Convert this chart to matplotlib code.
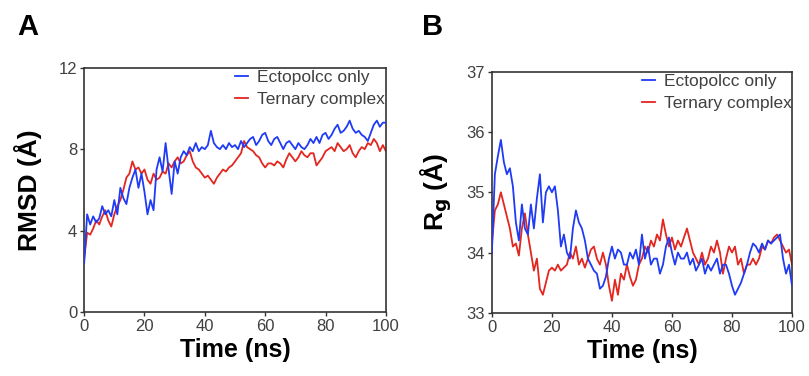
import numpy as np
import matplotlib
matplotlib.use("Agg")
import matplotlib.pyplot as plt

plt.rcParams.update({"font.family": ["Liberation Sans", "DejaVu Sans"]})

time_ns = list(range(0, 101))

rmsd_ecto = [2.4, 4.8, 4.3, 4.7, 4.4, 4.6, 5.2, 4.8, 5.0, 4.7,
             5.5, 4.8, 6.1, 5.6, 5.3, 6.1, 6.6, 7.0, 6.1, 6.8,
             5.9, 4.8, 5.5, 5.0, 7.0, 7.6, 6.9, 8.3, 7.0, 5.8,
             7.4, 6.8, 7.6, 7.9, 7.7, 8.1, 7.9, 8.3, 7.9, 8.1,
             8.0, 8.2, 8.9, 8.3, 8.1, 8.0, 8.2, 8.0, 8.3, 8.1,
             8.2, 8.0, 8.4, 8.1, 8.3, 8.5, 8.6, 8.2, 8.4, 8.7,
             8.8, 8.4, 8.2, 8.5, 8.6, 8.3, 8.0, 8.3, 8.4, 8.2,
             8.0, 8.3, 8.1, 8.0, 8.2, 8.5, 8.3, 8.6, 8.3, 8.7,
             8.8, 8.5, 8.7, 9.0, 9.2, 8.8, 8.9, 9.1, 9.4, 9.0,
             8.8, 8.9, 8.7, 8.6, 8.4, 8.8, 9.2, 9.4, 9.1, 9.3, 9.3]
rmsd_tern = [2.6, 3.9, 3.8, 4.1, 4.5, 4.3, 4.7, 5.0, 4.5, 4.2,
             4.8, 5.2, 5.5, 6.0, 6.6, 6.8, 7.4, 7.0, 7.1, 6.8,
             7.0, 6.5, 6.3, 6.8, 6.5, 6.6, 6.9, 6.8, 7.3, 7.1,
             7.4, 7.6, 7.3, 7.4, 7.7, 7.9, 7.4, 7.1, 7.0, 6.8,
             6.6, 6.7, 6.5, 6.3, 6.6, 6.8, 7.0, 6.9, 7.1, 7.2,
             7.4, 7.6, 7.8, 8.4, 8.1, 8.0, 7.9, 7.7, 7.6, 7.3,
             7.1, 7.3, 7.3, 7.2, 7.4, 7.3, 7.1, 7.5, 7.8, 7.6,
             7.4, 7.6, 7.9, 7.7, 7.6, 7.8, 7.8, 7.2, 7.4, 7.6,
             7.9, 8.0, 8.1, 7.9, 8.3, 8.1, 7.9, 8.0, 8.2, 7.8,
             7.6, 7.9, 8.1, 8.0, 8.3, 8.2, 8.5, 8.3, 7.9, 8.2, 7.9]

rg_ecto = [34.0, 35.3, 35.6, 35.87, 35.5, 35.3, 35.4, 35.1, 34.5, 34.2,
           34.8, 34.4, 34.3, 34.8, 34.4, 34.9, 35.3, 34.5, 35.0, 35.1,
           35.0, 35.1, 34.7, 34.1, 34.3, 34.0, 33.9, 34.4, 34.7, 34.5,
           34.4, 34.2, 33.9, 33.8, 33.7, 33.65, 33.4, 33.45, 33.6, 33.9,
           34.1, 33.9, 34.05, 34.0, 33.8, 33.8, 34.0, 33.9, 34.05, 33.8,
           34.3, 33.9, 34.1, 33.8, 33.9, 33.9, 33.65, 33.8, 34.1, 34.25,
           34.0, 33.8, 34.0, 33.9, 33.9, 34.0, 33.8, 33.9, 33.7, 33.8,
           33.9, 33.65, 33.8, 33.7, 33.8, 33.9, 33.65, 33.8, 33.8, 33.65,
           33.45, 33.3, 33.4, 33.5, 33.65, 33.8, 34.0, 34.15, 34.1, 34.0,
           34.15, 34.05, 34.2, 34.15, 34.2, 34.25, 34.3, 33.9, 33.65, 33.8, 33.45]
rg_tern = [34.15, 34.7, 34.8, 35.0, 34.8, 34.6, 34.4, 34.1, 34.15, 33.95,
           34.4, 34.65, 34.3, 34.0, 33.7, 33.9, 33.4, 33.3, 33.5, 33.7,
           33.75, 33.7, 33.8, 33.7, 33.75, 33.8, 34.0, 33.9, 34.1, 33.8,
           33.9, 33.75, 33.9, 34.05, 34.1, 33.9, 33.8, 34.0, 33.8, 33.45,
           33.2, 33.55, 33.3, 33.65, 33.55, 33.8, 33.6, 33.45, 33.55, 33.8,
           33.9, 34.1, 34.0, 34.2, 34.1, 34.3, 34.2, 34.55, 34.3, 34.1,
           34.25, 34.05, 34.2, 34.1, 34.25, 34.4, 34.2, 34.0, 33.9, 33.8,
           34.0, 33.8, 33.9, 34.1, 34.0, 34.2, 34.0, 33.65, 33.9, 34.1,
           34.0, 34.1, 33.8, 33.9, 33.65, 33.8, 33.8, 33.9, 33.8, 33.9,
           34.1, 34.05, 34.2, 34.15, 34.25, 34.3, 34.2, 34.1, 34.0, 34.05, 33.8]

x_ticks = [0, 20, 40, 60, 80, 100]
BLUE = "#1f3bf5"
RED = "#e3261f"
AXC = "#333333"
TXC = "#404040"

fig = plt.figure(figsize=(8.09, 3.76), dpi=100)
fig.patch.set_facecolor("white")
axA = fig.add_axes([0.104, 0.170, 0.373, 0.650])
axB = fig.add_axes([0.608, 0.168, 0.371, 0.641])


def style(ax, ylim, yticks):
    ax.set_xlim(0, 100)
    ax.set_ylim(*ylim)
    ax.set_xticks(x_ticks)
    ax.set_yticks(yticks)
    for s in ax.spines.values():
        s.set_color(AXC)
        s.set_linewidth(1.2)
    ax.tick_params(direction="out", length=3, width=1.0, color=AXC,
                   labelcolor=TXC, labelsize=12, pad=2)
    ax.set_xlabel("Time (ns)", fontsize=18, fontweight="bold", labelpad=3)
    leg = ax.legend(loc="upper left", bbox_to_anchor=(0.50, 0.99),
                    frameon=False, fontsize=12.5, handlelength=0.75,
                    handletextpad=0.5, labelspacing=0.4, borderaxespad=0,
                    borderpad=0)
    for t in leg.get_texts():
        t.set_color(TXC)


axA.plot(time_ns, rmsd_ecto, color=BLUE, lw=1.3, label="Ectopolcc only", zorder=3)
axA.plot(time_ns, rmsd_tern, color=RED, lw=1.3, label="Ternary complex", zorder=2)
style(axA, (0, 12), [0, 4, 8, 12])
axA.set_ylabel("RMSD (Å)", fontsize=19, fontweight="bold", labelpad=12)

axB.plot(time_ns, rg_ecto, color=BLUE, lw=1.3, label="Ectopolcc only", zorder=3)
axB.plot(time_ns, rg_tern, color=RED, lw=1.3, label="Ternary complex", zorder=2)
style(axB, (33, 37), [33, 34, 35, 36, 37])
axB.set_ylabel(r"R$_\mathbf{g}$ (Å)", fontsize=19, fontweight="bold", labelpad=9)

fig.text(0.034, 0.928, "A", fontsize=21, fontweight="bold", ha="center", va="center")
fig.text(0.535, 0.928, "B", fontsize=21, fontweight="bold", ha="center", va="center")

fig.savefig("out.png", dpi=100)
